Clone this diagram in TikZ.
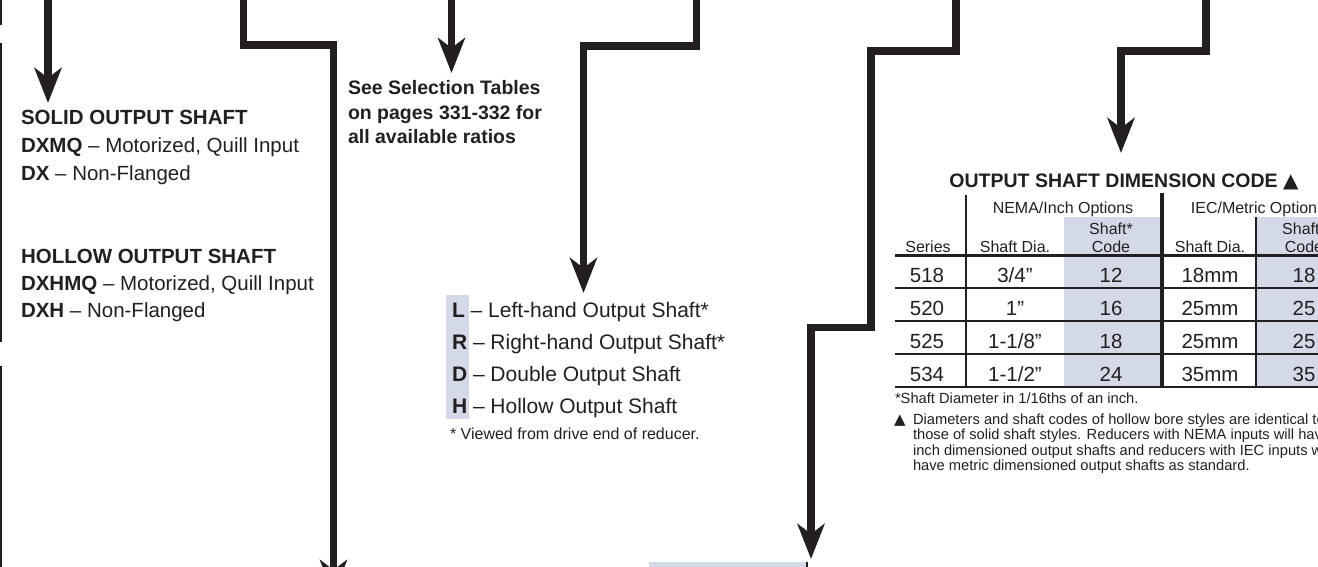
\documentclass[tikz,border=0pt]{standalone}
\usepackage{fontspec}
\setmainfont{Liberation Sans}
\newfontfamily\symfont{DejaVu Sans}
\usetikzlibrary{arrows.meta}
\definecolor{ink}{RGB}{35,31,32}
\definecolor{shade}{RGB}{211,217,231}
\begin{document}
\begin{tikzpicture}[x=1pt,y=-1pt,
  flow/.style={draw=ink, line width=7.5pt, line join=miter, line cap=butt,
    -{Stealth[length=35pt,width=27pt,inset=10pt]}},
  txt/.style={inner sep=0pt, outer sep=0pt, anchor=base west, text=ink},
  ctr/.style={inner sep=0pt, outer sep=0pt, anchor=base, text=ink},
  big/.style={font=\fontsize{20.5}{24}\selectfont},
  sel/.style={font=\fontsize{19.5}{23}\selectfont\bfseries},
  lst/.style={font=\fontsize{21}{25}\selectfont},
  small/.style={font=\fontsize{16}{19}\selectfont},
  hdr/.style={font=\fontsize{16}{19}\selectfont},
  cell/.style={font=\fontsize{20.5}{24}\selectfont},
  note/.style={font=\fontsize{14.7}{17}\selectfont},
  ttl/.style={font=\fontsize{19.5}{23}\selectfont\bfseries},
  rule/.style={draw=ink, line width=2pt},
  thin/.style={draw=ink, line width=1.5pt},
  thick/.style={draw=ink, line width=4pt},
  shadebox/.style={fill=shade, inner sep=0pt, outer sep=0pt, anchor=north west, draw=none}
]
\useasboundingbox (0,0) rectangle (1318,567);
\clip (0,0) rectangle (1318,567);

% left border line
\draw[ink, line width=2pt] (1,-5) -- (1,25) (1,43) -- (1,342) (1,366) -- (1,575);

% arrow coordinates
\coordinate (s1) at (48,-10);   \coordinate (t1) at (48,103);
\coordinate (s2) at (243.5,-10); \coordinate (k2a) at (243.5,45); \coordinate (k2b) at (333.5,45); \coordinate (t2) at (333.5,595);
\coordinate (s3) at (451.5,-10); \coordinate (t3) at (451.5,73);
\coordinate (s4) at (696.5,-10); \coordinate (k4a) at (696.5,46); \coordinate (k4b) at (583.5,46); \coordinate (t4) at (583.5,293);
\coordinate (s5) at (956,-10); \coordinate (k5a) at (956,51); \coordinate (k5b) at (871,51); \coordinate (k5c) at (871,327.5); \coordinate (k5d) at (811,327.5); \coordinate (t5) at (811,559);
\coordinate (s6) at (1206,-10); \coordinate (k6a) at (1206,51); \coordinate (k6b) at (1121,51); \coordinate (t6) at (1121,153);

\draw[flow] (s1) -- (t1);
\draw[flow] (s2) -- (k2a) -- (k2b) -- (t2);
\draw[flow] (s3) -- (t3);
\draw[flow] (s4) -- (k4a) -- (k4b) -- (t4);
\draw[flow] (s5) -- (k5a) -- (k5b) -- (k5c) -- (k5d) -- (t5);
\draw[flow] (s6) -- (k6a) -- (k6b) -- (t6);

% left text block
\node[txt,big] (solid) at (21,125) {\textbf{SOLID OUTPUT SHAFT}};
\node[txt,big] (dxmq) at (21,153) {\textbf{DXMQ} – Motorized, Quill Input};
\node[txt,big] (dx) at (21,181) {\textbf{DX} – Non-Flanged};
\node[txt,big] (hollow) at (21,263) {\textbf{HOLLOW OUTPUT SHAFT}};
\node[txt,big] (dxhmq) at (21,290) {\textbf{DXHMQ} – Motorized, Quill Input};
\node[txt,big] (dxh) at (21,317.5) {\textbf{DXH} – Non-Flanged};

% selection tables note
\node[txt,sel] (see1) at (348,95) {See Selection Tables};
\node[txt,sel] (see2) at (348,119.5) {on pages 331-332 for};
\node[txt,sel] (see3) at (348,144) {all available ratios};

% output shaft options
\node[shadebox, minimum width=23pt, minimum height=124pt] (lhl) at (446,295) {};
\node[txt,lst] (optL) at (452,317) {\textbf{L} – Left-hand Output Shaft*};
\node[txt,lst] (optR) at (452,349) {\textbf{R} – Right-hand Output Shaft*};
\node[txt,lst] (optD) at (452,381) {\textbf{D} – Double Output Shaft};
\node[txt,lst] (optH) at (452,413) {\textbf{H} – Hollow Output Shaft};
\node[txt,small] (viewed) at (450,439) {* Viewed from drive end of reducer.};

% bottom code box
\node[shadebox, minimum width=158pt, minimum height=20pt] (codebox) at (649,562) {};
\draw[thin] (codebox.north east) -- (codebox.south east);

% table title
\node[ctr,ttl] (title) at (1124,187) {OUTPUT SHAFT DIMENSION CODE {\symfont\fontsize{20}{22}\selectfont ▲}};

% table shading
\node[shadebox, minimum width=96pt, minimum height=170pt] (nemacode) at (1064,217) {};
\node[shadebox, minimum width=96pt, minimum height=170pt] (ieccode) at (1256,217) {};

% table rules
\draw[rule, line width=2.5pt] (895,255.5) -- (1352,255.5);
\draw[rule] (895,288) -- (1352,288);
\draw[rule] (895,321) -- (1352,321);
\draw[rule] (895,354) -- (1352,354);
\draw[rule] (895,387) -- (1352,387);
\draw[thin] (966,195) -- (966,387);
\draw[thin] (1256,217) -- (1256,387);
\draw[thick] (1162,193) -- (1162,388);

% table header
\node[ctr,hdr] (hnema) at (1063,213) {NEMA/Inch Options};
\node[ctr,hdr] (hiec) at (1258,213) {IEC/Metric Options};
\node[ctr,hdr] (hsc1) at (1111,234) {Shaft*};
\node[ctr,hdr] (hcd1) at (1111,252) {Code};
\node[ctr,hdr] (hsc2) at (1304,234) {Shaft*};
\node[ctr,hdr] (hcd2) at (1304,252) {Code};
\node[ctr,hdr] (hser) at (928,252) {Series};
\node[ctr,hdr] (hdia1) at (1015,252) {Shaft Dia.};
\node[ctr,hdr] (hdia2) at (1210,252) {Shaft Dia.};

% table rows
\node[ctr,cell] (r1a) at (927,282) {518};
\node[ctr,cell] (r1b) at (1015,282) {3/4”};
\node[ctr,cell] (r1c) at (1111,282) {12};
\node[ctr,cell] (r1d) at (1210,282) {18mm};
\node[ctr,cell] (r1e) at (1304,282) {18};
\node[ctr,cell] (r2a) at (927,315) {520};
\node[ctr,cell] (r2b) at (1015,315) {1”};
\node[ctr,cell] (r2c) at (1111,315) {16};
\node[ctr,cell] (r2d) at (1210,315) {25mm};
\node[ctr,cell] (r2e) at (1304,315) {25};
\node[ctr,cell] (r3a) at (927,348) {525};
\node[ctr,cell] (r3b) at (1015,348) {1-1/8”};
\node[ctr,cell] (r3c) at (1111,348) {18};
\node[ctr,cell] (r3d) at (1210,348) {25mm};
\node[ctr,cell] (r3e) at (1304,348) {25};
\node[ctr,cell] (r4a) at (927,381) {534};
\node[ctr,cell] (r4b) at (1015,381) {1-1/2”};
\node[ctr,cell] (r4c) at (1111,381) {24};
\node[ctr,cell] (r4d) at (1210,381) {35mm};
\node[ctr,cell] (r4e) at (1304,381) {35};

% notes
\node[txt,note] (n1) at (895,403) {*Shaft Diameter in 1/16ths of an inch.};
\node[txt,note] (ntri) at (894,424) {{\symfont\fontsize{15}{17}\selectfont ▲}};
\node[txt,note] (n2) at (913,424) {Diameters and shaft codes of hollow bore styles are identical to};
\node[txt,note] (n3) at (913,439.5) {those of solid shaft styles. Reducers with NEMA inputs will have};
\node[txt,note] (n4) at (913,455) {inch dimensioned output shafts and reducers with IEC inputs will};
\node[txt,note] (n5) at (913,470) {have metric dimensioned output shafts as standard.};
\end{tikzpicture}
\end{document}
